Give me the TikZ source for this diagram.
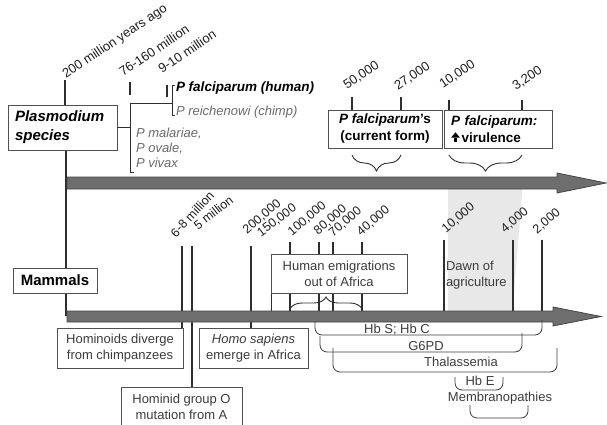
\documentclass[tikz,border=0pt]{standalone}
\usepackage{fontspec}
\setmainfont{Liberation Sans}
\usetikzlibrary{decorations.pathreplacing}
\definecolor{linec}{HTML}{2E2E2E}
\definecolor{boxc}{HTML}{505050}
\definecolor{txtc}{HTML}{3C3C3C}
\definecolor{lblc}{HTML}{1E1E1E}
\definecolor{barfill}{HTML}{6E6E6E}
\definecolor{baredge}{HTML}{454545}
\definecolor{shadec}{HTML}{E8E8E8}
\definecolor{speciesc}{HTML}{6A6A6A}
\pgfdeclarelayer{back}
\pgfdeclarelayer{mid}
\pgfsetlayers{back,mid,main}
\newcommand{\uparr}{\tikz[baseline=0pt,x=1pt,y=1pt]{\fill (0,4.6) -- (4.5,10) -- (9,4.6) -- cycle; \fill (3,0) rectangle (6,4.8);}}
\begin{document}
\begin{tikzpicture}[x=1pt,y=-1pt,
  every node/.style={inner sep=0pt, outer sep=0pt},
  font=\fontsize{13}{16}\selectfont,
  ln/.style={draw=linec, line width=0.9pt},
  tick/.style={draw=linec, line width=1.7pt},
  box/.style={draw=boxc, fill=white, line width=0.9pt, text=txtc, align=center},
  lbl/.style={anchor=base west, text=lblc},
  rlt/.style={lbl, rotate=34},
  rlb/.style={lbl, rotate=40, font=\fontsize{12.5}{15}\selectfont},
  bar/.style={fill=barfill, draw=baredge, line width=0.8pt},
  brk/.style={draw=txtc, line width=0.8pt, rounded corners=7pt},
  bup/.style={draw=linec, line width=0.9pt, decorate, decoration={brace, amplitude=#1}},
  bdown/.style={draw=linec, line width=0.9pt, decorate, decoration={brace, amplitude=#1, mirror}},
  hbl/.style={text=txtc},
]
\useasboundingbox (0,0) rectangle (607,425);

% ---------- boxes ----------
\node[box, text=black, font=\fontsize{15}{19}\selectfont\bfseries\itshape, align=left, text width=95pt, minimum width=109pt, minimum height=45pt] (plas) at (62.5,127.5) {Plasmodium\\species};
\node[box, text=black, font=\fontsize{15}{18}\selectfont\bfseries, minimum width=84pt, minimum height=25pt] (mam) at (55,280.5) {Mammals};
\node[box, minimum width=126pt, minimum height=40pt] (homi) at (120,348) {Hominoids diverge\\from chimpanzees};
\node[box, minimum width=109pt, minimum height=40pt] (homo) at (253.5,348) {\textit{Homo sapiens}\\emerge in Africa};
\node[box, minimum width=121pt, minimum height=40pt] (grpo) at (181.5,407) {Hominid group O\\mutation from A};
\node[box, minimum width=136pt, minimum height=39pt] (emig) at (339,273.5) {Human emigrations\\out of Africa};
\node[box, text=black, font=\fontsize{13.5}{17}\selectfont\bfseries, minimum width=114pt, minimum height=38pt] (cur) at (385,129) {\textit{P falciparum}'s\\(current form)};
\node[box, text=black, font=\fontsize{13.5}{17}\selectfont\bfseries, align=left, text width=94pt, minimum width=108pt, minimum height=38pt] (vir) at (498,129) {\textit{P falciparum:}\\\uparr\hspace{1.5pt}virulence};

% ---------- species text ----------
\node[anchor=west, font=\fontsize{13.5}{16}\selectfont\bfseries\itshape] (pfh) at (176,88) {P falciparum (human)};
\node[anchor=west, text=speciesc, font=\fontsize{13}{16}\selectfont\itshape] (pre) at (176,112) {P reichenowi (chimp)};
\node[anchor=west, text=speciesc, align=left, font=\fontsize{13}{15}\selectfont\itshape] (pmo) at (136,148) {P malariae,\\P ovale,\\P vivax};
\node[anchor=north west, align=left, text=txtc] (dawn) at (446,261) {Dawn of\\agriculture};

% ---------- coordinates ----------
\coordinate (vx) at (66,0);
\coordinate (barB) at (0,316);
\coordinate (t200) at (65,80);
\coordinate (t76a) at (130,82);  \coordinate (t76b) at (130,95);
\coordinate (t9a) at (167,85);   \coordinate (t9b) at (167,97);
\coordinate (t50) at (352,97);
\coordinate (t27) at (401,97);
\coordinate (t10) at (449,100);
\coordinate (t32) at (522,100);
\coordinate (m68) at (182,246);
\coordinate (m5) at (192,246);
\coordinate (m200) at (251,246);
\coordinate (m100) at (290,242);
\coordinate (m80) at (319,242);
\coordinate (m70) at (333,242);
\coordinate (m40) at (362,242);
\coordinate (m10) at (444,240);
\coordinate (m4) at (513,240);
\coordinate (m2) at (542,240);
\coordinate (efoot) at (271,316);

% ---------- back layer: shade, lines ----------
\begin{pgfonlayer}{back}
\fill[shadec] (448,183) -- (523,183) -- (512,316) -- (448,316) -- cycle;
\draw[tick] (vx |- plas.south) -- (vx |- barB);
\draw[tick] (t200) -- (t200 |- plas.north);
\draw[tick] (t76a) -- (t76b);
\draw[tick] (t9a) -- (t9b);
\foreach \c/\n in {t50/cur, t27/cur, t10/vir, t32/vir}
  \draw[tick] (\c) -- (\c |- \n.north);
\draw[tick] (m68) -- (m68 |- homi.north);
\draw[tick] (m5) -- (m5 |- grpo.north);
\draw[tick] (m200) -- (m200 |- homo.north);
\foreach \c in {m100,m80,m70,m40,m10,m4,m2}
  \draw[tick] (\c) -- (\c |- barB);
\draw[ln] (emig.south west) -- (efoot);
\end{pgfonlayer}

% ---------- bars ----------
\begin{pgfonlayer}{mid}
\filldraw[bar] (67,177) -- (557,177) -- (557,173) -- (606,183) -- (557,193) -- (557,189) -- (67,189) -- cycle;
\filldraw[bar] (67,311) -- (553,311) -- (553,307) -- (601,316.5) -- (553,326) -- (553,322) -- (67,322) -- cycle;
\end{pgfonlayer}

% ---------- species brackets ----------
\draw[ln] (plas.east) -- (130,127.5);
\draw[ln] (134,172) -- (130,172) -- (130,103) -- (172,103);
\draw[ln] (175,85) -- (172,85) -- (172,115) -- (175,115);

% ---------- braces ----------
\draw[bdown=16] (352,155) -- (401,155);
\draw[bdown=16] (449,155) -- (522,155);
\draw[bup=12] (290,309) -- (362,309);

% ---------- rotated labels ----------
\node[rlt] (l200) at (66,79) {200 million years ago};
\node[rlt] (l76) at (123,77) {76-160 million};
\node[rlt] (l9) at (162,74) {9-10 million};
\node[rlt] (l50) at (347,90) {50,000};
\node[rlt] (l27) at (398,91) {27,000};
\node[rlt] (l10t) at (443,89) {10,000};
\node[rlt] (l32) at (516,91) {3,200};

\node[rlb, rotate=7] (l68) at (176,238) {6-8 million};
\node[rlb, rotate=-2] (l5) at (198,230) {5 million};
\node[rlb] (l200k) at (247,234) {200,000};
\node[rlb, rotate=-3] (l150k) at (261,237) {150,000};
\node[rlb] (l100k) at (292,236) {100,000};
\node[rlb] (l80k) at (318,235) {80,000};
\node[rlb] (l70k) at (333,237) {70,000};
\node[rlb] (l40k) at (361,236) {40,000};
\node[rlb] (l10k) at (446,233) {10,000};
\node[rlb] (l4k) at (505,233) {4,000};
\node[rlb] (l2k) at (537,234) {2,000};

% ---------- disease brackets ----------
\draw[brk] (315,322) -- (315,335) -- (542,335) -- (542,320);
\draw[brk] (320,336) -- (320,352) -- (522,352) -- (522,333);
\draw[brk] (333,348) -- (333,372) -- (557,372) -- (557,348);
\draw[brk] (455,377) -- (455,390) -- (503,390) -- (503,377);
\draw[brk] (470,405) -- (470,418) -- (528,418) -- (528,405);
\node[hbl] (hbs) at (397,329.5) {Hb S; Hb C};
\node[hbl] (g6) at (426,346) {G6PD};
\node[hbl] (thal) at (461,362) {Thalassemia};
\node[hbl] (hbe) at (480,381) {Hb E};
\node[hbl] (memb) at (500,398) {Membranopathies};
\end{tikzpicture}
\end{document}
